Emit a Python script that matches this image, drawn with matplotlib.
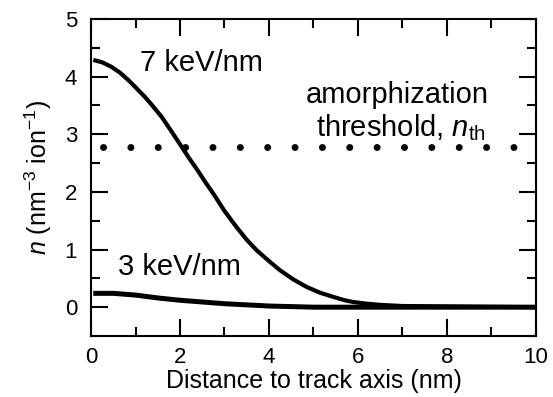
import numpy as np
import matplotlib
matplotlib.use('Agg')
import matplotlib.pyplot as plt

plt.rcParams['font.family'] = ['Liberation Sans', 'DejaVu Sans']
plt.rcParams['mathtext.fontset'] = 'custom'
plt.rcParams['mathtext.rm'] = 'Liberation Sans'
plt.rcParams['mathtext.it'] = 'Liberation Sans:italic'

# 7 keV/nm 曲線
x7 = [0.05, 0.25, 0.46, 0.65, 0.84, 1.02, 1.21, 1.40, 1.59, 1.80, 2.04, 2.22,
      2.40, 2.56, 2.75, 3.0, 3.27, 3.50, 3.72, 4.0, 4.25, 4.55, 4.85, 5.15,
      5.44, 5.70, 5.89, 6.2, 6.5, 7.0, 10.0]
n7 = [4.29, 4.25, 4.17, 4.07, 3.94, 3.80, 3.65, 3.48, 3.30, 3.06, 2.78, 2.57,
      2.37, 2.18, 1.97, 1.67, 1.39, 1.17, 0.99, 0.80, 0.64, 0.48, 0.35, 0.25,
      0.18, 0.12, 0.09, 0.06, 0.04, 0.02, 0.0]

# 3 keV/nm 曲線
x3 = [0.05, 0.5, 1.0, 1.5, 2.0, 2.5, 3.0, 3.5, 4.0, 4.5, 5.0, 6.0, 10.0]
n3 = [0.24, 0.24, 0.21, 0.16, 0.12, 0.09, 0.06, 0.04, 0.02, 0.01, 0.0, 0.0, 0.0]

# しきい値
n_th = 2.78
x_th = [0.27, 10.0]

fig = plt.figure(figsize=(5.53, 3.97), dpi=100)
ax = fig.add_axes([0.1646, 0.1537, 0.969 - 0.1646, 0.952 - 0.1537])

ax.plot(x7, n7, color='black', lw=3.0, solid_capstyle='butt',
        solid_joinstyle='round')
ax.plot(x3, n3, color='black', lw=3.6, solid_capstyle='butt',
        solid_joinstyle='round')
ax.plot(x_th, [n_th, n_th], color='black', lw=5.0,
        linestyle=(0, (0.01, 3.93)), dash_capstyle='round')

ax.text(1.1, 4.24, '7 keV/nm', fontsize=21, va='center', ha='left')
ax.text(0.61, 0.69, '3 keV/nm', fontsize=21, va='center', ha='left')
ax.text(6.89, 3.68, 'amorphization', fontsize=21, va='center', ha='center')
ax.text(6.97, 3.11, 'threshold, $n_{\\mathrm{th}}$', fontsize=21,
        va='center', ha='center')

ax.set_xlim(0, 10)
ax.set_ylim(-0.5, 5)
ax.set_xticks([0, 2, 4, 6, 8, 10])
ax.set_xticks([1, 3, 5, 7, 9], minor=True)
ax.set_yticks([0, 1, 2, 3, 4, 5])
ax.set_yticks([-0.5, 0.5, 1.5, 2.5, 3.5, 4.5], minor=True)

ax.tick_params(which='both', direction='in', top=True, right=True,
               width=1.5, labelsize=16)
ax.tick_params(which='major', length=12)
ax.tick_params(which='minor', length=6.5)
ax.tick_params(axis='x', pad=8)
ax.tick_params(axis='y', pad=10)
for s in ax.spines.values():
    s.set_linewidth(1.5)

ax.set_xlabel('Distance to track axis (nm)', fontsize=18, labelpad=1)
ax.set_ylabel('$n$ (nm$^{-3}$ ion$^{-1}$)', fontsize=18, labelpad=8)

fig.savefig('out.png', dpi=100)
